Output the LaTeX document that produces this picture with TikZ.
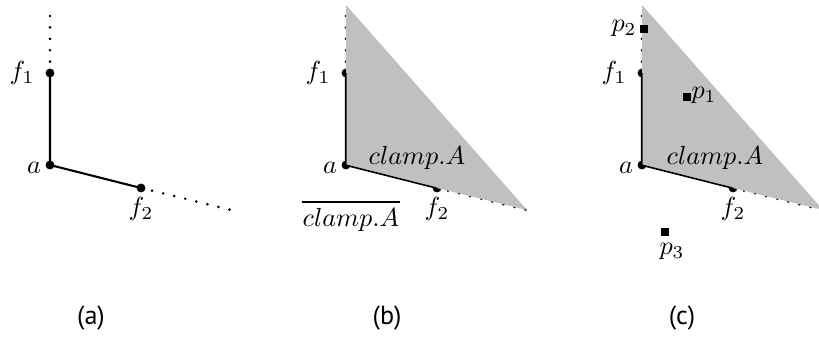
\documentclass[tikz,border=0pt]{standalone}
\usepackage{fontspec}
\newfontfamily\capfont{PT Sans}
\usetikzlibrary{calc}
\definecolor{clampgray}{RGB}{192,192,192}
\tikzset{
  pt/.style={circle,fill=black,inner sep=0pt,minimum size=3.4pt},
  sq/.style={rectangle,fill=black,inner sep=0pt,minimum size=2.8pt},
  seg/.style={line width=0.8pt},
  dots/.style={line width=1.1pt,line cap=round,dash pattern=on 0pt off 4.35pt},
  lab/.style={inner sep=0pt},
  captext/.style={inner sep=0pt,font=\capfont}
}
\begin{document}
\begin{tikzpicture}[x=0.382pt,y=-0.382pt]
\useasboundingbox (0,0) rectangle (819,338);
\foreach \o/\n in {0/a,296/b,592/c}{
  \coordinate (\n-top) at (50+\o,5);
  \coordinate (\n-end) at (231+\o,210);
  \node[pt] (\n-a) at (50+\o,165) {};
  \node[pt] (\n-f1) at (50+\o,73) {};
  \node[pt] (\n-f2) at (141+\o,188) {};
  \draw[dots] (\n-f1.center) -- (\n-top);
  \draw[dots] (\n-f2.center) -- (\n-end);
  \draw[seg] (\n-f1.center) -- (\n-a.center) -- (\n-f2.center);
}
\foreach \n in {b,c}{
  \fill[fill=clampgray] (\n-top) -- (\n-end) -- (\n-f2.center) -- (\n-a.center) -- cycle;
  \draw[line width=0.4pt] (\n-f1.center) -- (\n-a.center) -- (\n-f2.center);
}
\foreach \n in {a,b,c}{
  \node[lab] (\n-lf1) at ([shift={(-28,0)}]\n-f1) {$f_1$};
  \node[lab] (\n-la) at ([shift={(-16,3)}]\n-a) {$a$};
  \node[lab] (\n-lf2) at ([shift={(0,21)}]\n-f2) {$f_2$};
}
\node[lab] (b-cl) at ([shift={(71,-7)}]b-a) {$clamp.A$};
\node[lab] (c-cl) at ([shift={(73,-7)}]c-a) {$clamp.A$};
\node[lab] (b-ncl) at ([shift={(5,51)}]b-a) {\vbox{\hrule height 1.1pt\kern 1.8pt\hbox{\kern0.3pt$clamp.A$\kern0.3pt}}};
% points in (c)
\node[sq] (p2) at (644,29) {};
\node[lab,anchor=east] (lp2) at (637,28) {$p_2$};
\node[sq] (p1) at (687,97) {};
\node[lab,anchor=west] (lp1) at (691,95) {$p_1$};
\node[sq] (p3) at (665,232) {};
\node[lab] (lp3) at (672,251) {$p_3$};
% captions
\node[captext] (ca) at (91,318) {(a)};
\node[captext] (cb) at (387,318) {(b)};
\node[captext] (cc) at (682,318) {(c)};
\end{tikzpicture}
\end{document}
